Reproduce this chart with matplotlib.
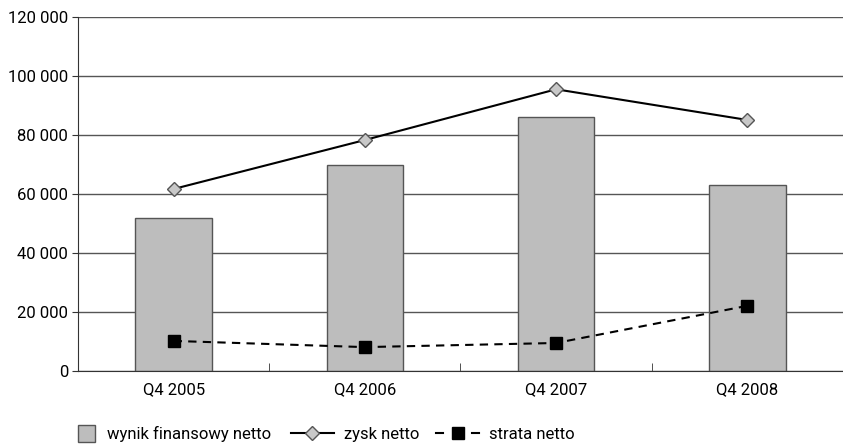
import numpy as np
import matplotlib
matplotlib.use('Agg')
import matplotlib.pyplot as plt
from matplotlib.ticker import FuncFormatter
from matplotlib.patches import Rectangle
from matplotlib.lines import Line2D
from matplotlib.legend_handler import HandlerPatch, HandlerBase

plt.rcParams['font.family'] = ['Liberation Sans Narrow', 'Roboto', 'DejaVu Sans']

# data
quarters = ['Q4 2005', 'Q4 2006', 'Q4 2007', 'Q4 2008']
wynik = [52000, 70000, 86000, 63000]
zysk = [61700, 78300, 95500, 85100]
strata = [10200, 8100, 9500, 22100]

fig = plt.figure(figsize=(8.43, 4.44), dpi=100)
ax = fig.add_axes([0.0925, 0.1644, 0.9075, 0.7973])

x = np.arange(len(quarters))
ax.bar(x, wynik, width=0.4, color='#bdbdbd', edgecolor='#555555', linewidth=1.0, zorder=2)
l1, = ax.plot(x, zysk, color='black', linewidth=1.5, marker='D', markersize=7,
              markerfacecolor='#c8c8c8', markeredgecolor='#555555', label='zysk netto', zorder=3)
l2, = ax.plot(x, strata, color='black', linewidth=1.5, dashes=[4, 3], marker='s', markersize=8,
              markerfacecolor='black', markeredgecolor='black', label='strata netto', zorder=3)

ax.set_xlim(-0.5, 3.5)
ax.set_ylim(0, 120000)
ax.set_yticks(np.arange(0, 120001, 20000))
ax.yaxis.set_major_formatter(FuncFormatter(lambda v, p: f'{int(v):,}'.replace(',', ' ')))
ax.grid(axis='y', color='#555555', linewidth=1.0, zorder=0)
ax.set_axisbelow(True)

ax.set_xticks(x)
ax.set_xticklabels(quarters)
ax.set_xticks(np.arange(-0.5, 3.6, 1.0), minor=True)
ax.tick_params(axis='x', which='major', length=0, pad=8, labelsize=12)
ax.tick_params(axis='x', which='minor', length=6, direction='in', color='#333333')
ax.tick_params(axis='y', length=4, color='#333333', labelsize=12, pad=3)

for s in ['top', 'right']:
    ax.spines[s].set_visible(False)
ax.spines['left'].set_color('#333333')
ax.spines['bottom'].set_color('#333333')


def square_patch(legend, orig_handle, xdescent, ydescent, width, height, fontsize):
    side = 1.4 * height
    return Rectangle((-xdescent, -ydescent + (height - side) / 2), side, side)


class DashMarkerHandler(HandlerBase):
    # "- ■ -" legend key: two short dashes around a square marker
    def create_artists(self, legend, orig_handle, xdescent, ydescent, width, height,
                       fontsize, trans):
        y = height / 2 - ydescent
        x0 = -xdescent
        seg = width * 0.17
        left = Line2D([x0, x0 + seg], [y, y], color='black', linewidth=1.5)
        right = Line2D([x0 + width - seg, x0 + width], [y, y], color='black', linewidth=1.5)
        mk = Line2D([x0 + width / 2], [y], marker='s', markersize=8, color='black',
                    linestyle='none')
        for a in (left, right, mk):
            a.set_transform(trans)
        return [left, right, mk]


# legend in two parts: square patch, then the two line entries
bar_proxy = Rectangle((0, 0), 1, 1, facecolor='#bdbdbd', edgecolor='#555555',
                      linewidth=1.0, label='wynik finansowy netto')
leg1 = fig.legend(handles=[bar_proxy], loc='lower left', bbox_to_anchor=(0.075, -0.03),
                  frameon=False, fontsize=12, handlelength=1.2, handletextpad=0.5,
                  handler_map={Rectangle: HandlerPatch(patch_func=square_patch)})
leg2 = fig.legend(handles=[l1, l2], loc='lower left', bbox_to_anchor=(0.327, -0.03),
                  ncol=2, frameon=False, fontsize=12, handlelength=2.6, handletextpad=0.6,
                  columnspacing=1.0, handler_map={l2: DashMarkerHandler()})

fig.savefig('out.png', dpi=100)
